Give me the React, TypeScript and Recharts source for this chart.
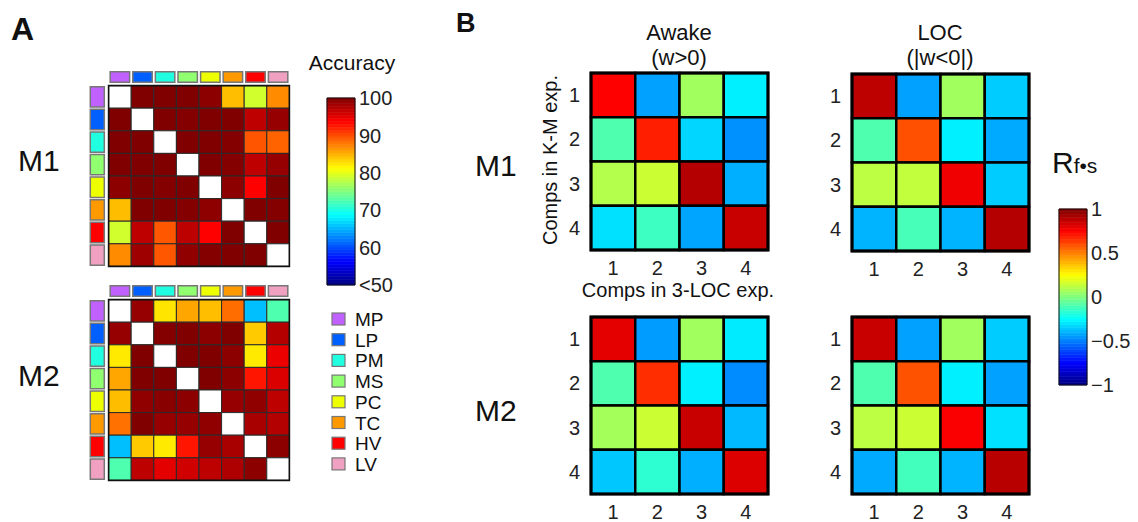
import React from "react";
import { ScatterChart, Scatter, XAxis, YAxis, ReferenceArea } from "recharts";

const FONT = '"Liberation Sans", Arial, Helvetica, sans-serif';

// ---------- Data ----------
const regions = ["MP", "LP", "PM", "MS", "PC", "TC", "HV", "LV"];
const regionColors = ["#c060ff", "#0060ff", "#20ffe0", "#90ff70", "#eeff00", "#ff9900", "#ff0000", "#f0a0c0"];

// Panel A: decoding accuracy (%), diagonal empty
const accuracyM1: (number | null)[][] = [
  [null, 100, 100, 100, 99.4, 84.4, 79, 86.9],
  [100, null, 100, 99.8, 100, 100, 96.9, 98.9],
  [100, 100, null, 100, 100, 99.8, 89.6, 88.9],
  [100, 100, 100, null, 100, 99.8, 96.9, 98.9],
  [99.4, 100, 99.8, 100, null, 99.4, 93.8, 100],
  [84.5, 100, 100, 99.8, 99.3, null, 100, 99.8],
  [79, 96.9, 89.5, 97, 93.8, 100, null, 100],
  [86.9, 98.5, 89.5, 99.2, 99.8, 100, 100, null],
];
const accuracyM2: (number | null)[][] = [
  [null, 98.9, 82.5, 85.6, 84.4, 88.4, 65.6, 72.6],
  [98.9, null, 99.8, 100, 99.4, 100, 83.8, 97.4],
  [82.3, 100, null, 100, 100, 99.4, 82.3, 94.7],
  [85.6, 100, 100, null, 100, 99.4, 92.7, 95.5],
  [84.5, 99.2, 99.6, 99.4, null, 98.9, 99.2, 97],
  [88.2, 100, 98.9, 98.9, 99.2, null, 98, 97.5],
  [65.6, 83.8, 82.3, 92.7, 98.9, 98, null, 99.4],
  [72.6, 97, 95, 96, 97, 97.7, 99.4, null],
];
const accuracyTicks = [50, 60, 70, 80, 90, 100];

// Panel B: correlation R(f·s)
const compLabels = [1, 2, 3, 4];
const awakeM1 = [
  [0.75, -0.435, 0.065, -0.28],
  [-0.095, 0.69, -0.33, -0.465],
  [0.1, 0.15, 0.897, -0.407],
  [-0.31, -0.13, -0.426, 0.858],
];
const locM1 = [
  [0.88, -0.435, 0.065, -0.35],
  [-0.095, 0.595, -0.28, -0.417],
  [0.12, 0.13, 0.78, -0.35],
  [-0.397, -0.11, -0.397, 0.897],
];
const awakeM2 = [
  [0.8, -0.445, 0.065, -0.29],
  [-0.095, 0.662, -0.28, -0.475],
  [0.073, 0.15, 0.858, -0.388],
  [-0.358, -0.162, -0.407, 0.818],
];
const locM2 = [
  [0.858, -0.435, 0.065, -0.35],
  [-0.095, 0.59, -0.28, -0.435],
  [0.12, 0.15, 0.76, -0.31],
  [-0.417, -0.12, -0.397, 0.89],
];
const corrTicks = [-1, -0.5, 0, 0.5, 1];

// ---------- Helpers ----------
function jet(t: number): string {
  const c = (x: number) => Math.max(0, Math.min(1, x));
  const tt = c(t);
  const r = c(1.5 - Math.abs(4 * tt - 3));
  const g = c(1.5 - Math.abs(4 * tt - 2));
  const b = c(1.5 - Math.abs(4 * tt - 1));
  return `rgb(${Math.round(r * 255)},${Math.round(g * 255)},${Math.round(b * 255)})`;
}

const CELL_A = 22.6;

function AccuracyMatrix({ values, left, top }: { values: (number | null)[][]; left: number; top: number }) {
  const n = values.length;
  const m = 3;
  const plot = CELL_A * (n + 1);
  const cells = values.flatMap((row, i) => row.map((v, j) => ({ row: i, col: j, v })));
  return (
    <div style={{ position: "absolute", left: left - CELL_A - m, top: top - CELL_A - m }}>
      <ScatterChart width={plot + 2 * m} height={plot + 2 * m} margin={{ top: m, right: m, bottom: m, left: m }}>
        <XAxis type="number" dataKey="col" domain={[-1.5, n - 0.5]} allowDataOverflow hide />
        <YAxis type="number" dataKey="row" domain={[-1.5, n - 0.5]} allowDataOverflow reversed hide />
        <Scatter data={cells} isAnimationActive={false} shape={() => <g />} />
        {cells.map((c) => (
          <ReferenceArea
            key={`c${c.row}-${c.col}`}
            x1={c.col - 0.5}
            x2={c.col + 0.5}
            y1={c.row - 0.5}
            y2={c.row + 0.5}
            fill={c.v == null ? "#ffffff" : jet((c.v - 50) / 50)}
            fillOpacity={1}
            stroke="#2a2a2a"
            strokeWidth={1}
            ifOverflow="visible"
          />
        ))}
        <ReferenceArea x1={-0.5} x2={n - 0.5} y1={-0.5} y2={n - 0.5} fill="none" stroke="#111" strokeWidth={1.6} ifOverflow="visible" />
        {regions.map((r, j) => (
          <ReferenceArea
            key={`t${r}`}
            x1={j - 0.43}
            x2={j + 0.43}
            y1={-1.11}
            y2={-0.65}
            fill={regionColors[j]}
            fillOpacity={1}
            stroke="#777"
            strokeWidth={1.5}
            ifOverflow="visible"
          />
        ))}
        {regions.map((r, i) => (
          <ReferenceArea
            key={`l${r}`}
            x1={-1.31}
            x2={-0.69}
            y1={i - 0.45}
            y2={i + 0.45}
            fill={regionColors[i]}
            fillOpacity={1}
            stroke="#777"
            strokeWidth={1.5}
            ifOverflow="visible"
          />
        ))}
      </ScatterChart>
    </div>
  );
}

const B_SIZE = 177;
const tickStyle = { fill: "#222", fontSize: 20, fontFamily: FONT };

function CorrMatrix({ values, left, top }: { values: number[][]; left: number; top: number }) {
  const yW = 40;
  const xH = 34;
  const m = 4;
  const cells = values.flatMap((row, i) => row.map((v, j) => ({ row: i + 1, col: j + 1, v })));
  return (
    <div style={{ position: "absolute", left: left - yW, top: top - m }}>
      <ScatterChart width={yW + B_SIZE + m} height={m + B_SIZE + xH} margin={{ top: m, right: m, bottom: 0, left: 0 }}>
        <XAxis
          type="number"
          dataKey="col"
          domain={[0.5, 4.5]}
          ticks={compLabels}
          interval={0}
          allowDataOverflow
          axisLine={false}
          tickLine={false}
          tickSize={0}
          tickMargin={11}
          height={xH}
          tick={tickStyle}
        />
        <YAxis
          type="number"
          dataKey="row"
          domain={[0.5, 4.5]}
          ticks={compLabels}
          interval={0}
          reversed
          allowDataOverflow
          axisLine={false}
          tickLine={false}
          tickSize={0}
          tickMargin={11}
          width={yW}
          tick={tickStyle}
        />
        <Scatter data={cells} isAnimationActive={false} shape={() => <g />} />
        {cells.map((c) => (
          <ReferenceArea
            key={`c${c.row}-${c.col}`}
            x1={c.col - 0.5}
            x2={c.col + 0.5}
            y1={c.row - 0.5}
            y2={c.row + 0.5}
            fill={jet((c.v + 1) / 2)}
            fillOpacity={1}
            stroke="#000"
            strokeWidth={2.5}
            ifOverflow="visible"
          />
        ))}
        <ReferenceArea x1={0.5} x2={4.5} y1={0.5} y2={4.5} fill="none" stroke="#000" strokeWidth={3} ifOverflow="visible" />
      </ScatterChart>
    </div>
  );
}

function Colorbar({
  domain,
  ticks,
  format,
  left,
  top,
  width,
  height,
}: {
  domain: [number, number];
  ticks: number[];
  format: (v: number) => string;
  left: number;
  top: number;
  width: number;
  height: number;
}) {
  const m = 12;
  const axW = 60;
  const steps = Array.from({ length: 64 }, (_, k) => k);
  const [d0, d1] = domain;
  const pts = ticks.map((t) => ({ x: 0.5, y: t }));
  return (
    <div style={{ position: "absolute", left: left - 2, top: top - m }}>
      <ScatterChart width={width + axW + 2} height={height + 2 * m} margin={{ top: m, bottom: m, left: 2, right: 0 }}>
        <XAxis type="number" dataKey="x" domain={[0, 1]} allowDataOverflow hide />
        <YAxis
          type="number"
          dataKey="y"
          orientation="right"
          domain={domain}
          ticks={ticks}
          interval={0}
          allowDataOverflow
          width={axW}
          axisLine={false}
          tickLine={false}
          tickSize={0}
          tickMargin={4}
          tickFormatter={format}
          tick={tickStyle}
        />
        <Scatter data={pts} isAnimationActive={false} shape={() => <g />} />
        {steps.map((k) => {
          const col = jet((k + 0.5) / 64);
          return (
            <ReferenceArea
              key={`s${k}`}
              x1={0}
              x2={1}
              y1={d0 + (k * (d1 - d0)) / 64}
              y2={d0 + ((k + 1) * (d1 - d0)) / 64}
              fill={col}
              fillOpacity={1}
              stroke={col}
              strokeWidth={0.6}
              ifOverflow="visible"
            />
          );
        })}
        <ReferenceArea x1={0} x2={1} y1={d0} y2={d1} fill="none" stroke="#111" strokeWidth={1} ifOverflow="visible" />
      </ScatterChart>
    </div>
  );
}

function Overlay() {
  const t = { fontFamily: FONT, fill: "#111" } as const;
  return (
    <svg width={1138} height={522} style={{ position: "absolute", left: 0, top: 0, pointerEvents: "none" }}>
      <text x={11} y={40} fontSize={32} fontWeight="bold" {...t}>A</text>
      <text x={456} y={32} fontSize={27} fontWeight="bold" {...t}>B</text>
      <text x={18} y={171} fontSize={30} {...t}>M1</text>
      <text x={18} y={386} fontSize={30} {...t}>M2</text>
      <text x={475} y={176} fontSize={30} {...t}>M1</text>
      <text x={475} y={421} fontSize={30} {...t}>M2</text>
      <text x={352} y={70} fontSize={21} textAnchor="middle" {...t}>Accuracy</text>
      <text x={679} y={40} fontSize={22} textAnchor="middle" {...t}>Awake</text>
      <text x={679} y={65} fontSize={22} textAnchor="middle" {...t}>(w&gt;0)</text>
      <text x={940} y={40} fontSize={22} textAnchor="middle" {...t}>LOC</text>
      <text x={940} y={65} fontSize={22} textAnchor="middle" {...t}>(|w&lt;0|)</text>
      <text x={1052} y={173} {...t}>
        <tspan fontSize={30}>R</tspan>
        <tspan fontSize={21}>f•s</tspan>
      </text>
      <text x={557} y={160} fontSize={20} textAnchor="middle" transform="rotate(-90 557 160)" {...t}>Comps in K-M exp.</text>
      <text x={678} y={297} fontSize={20} textAnchor="middle" {...t}>Comps in 3-LOC exp.</text>
      {regions.map((r, i) => (
        <g key={r}>
          <rect x={332} y={313 + i * 20.7} width={13} height={12} fill={regionColors[i]} stroke="#777" strokeWidth={1.2} />
          <text x={355} y={326 + i * 20.7} fontSize={19} {...t}>{r}</text>
        </g>
      ))}
    </svg>
  );
}

export default function App() {
  return (
    <div style={{ position: "relative", width: 1138, height: 522, background: "#fff", overflow: "hidden", fontFamily: FONT }}>
      <style>{"body{margin:0}"}</style>
      <Overlay />
      <AccuracyMatrix values={accuracyM1} left={108.3} top={86} />
      <AccuracyMatrix values={accuracyM2} left={108.3} top={300} />
      <Colorbar
        domain={[50, 100]}
        ticks={accuracyTicks}
        format={(v) => (v === 50 ? "<50" : String(v))}
        left={327}
        top={98}
        width={28}
        height={187}
      />
      <CorrMatrix values={awakeM1} left={591} top={73} />
      <CorrMatrix values={locM1} left={852} top={74} />
      <CorrMatrix values={awakeM2} left={591} top={317} />
      <CorrMatrix values={locM2} left={852} top={317} />
      <Colorbar
        domain={[-1, 1]}
        ticks={corrTicks}
        format={(v) => (v < 0 ? "\u2212" + Math.abs(v) : String(v))}
        left={1059}
        top={209}
        width={28}
        height={176}
      />
    </div>
  );
}
